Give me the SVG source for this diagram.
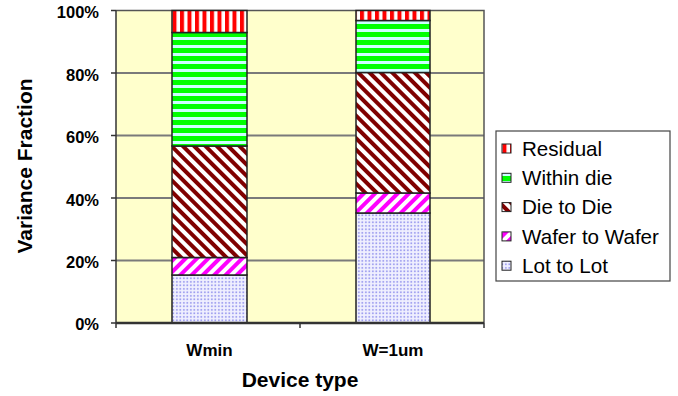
<svg xmlns="http://www.w3.org/2000/svg" width="678" height="396" viewBox="0 0 678 396">
  <style>
    .tick { font-family: "Liberation Sans", Arial, sans-serif; font-size: 16.5px; font-weight: bold; fill: #000; text-anchor: end; }
    .cat { font-family: "Liberation Sans", Arial, sans-serif; font-size: 17px; font-weight: bold; fill: #000; text-anchor: middle; }
    .title { font-family: "Liberation Sans", Arial, sans-serif; font-size: 21px; font-weight: bold; fill: #000; text-anchor: middle; }
    .leg { font-family: "Liberation Sans", Arial, sans-serif; font-size: 20.6px; fill: #000; }
    .grid { stroke: #7a7a7a; stroke-width: 2; fill: none; }
    .seg { stroke: #222; stroke-width: 1.5; }
    .sw { stroke: #222; stroke-width: 1; }
  </style>
  <defs>
    <!-- Residual: wide vertical red stripes -->
    <pattern id="pResidual" patternUnits="userSpaceOnUse" width="7.5" height="8">
      <rect width="7.5" height="8" fill="#ffffff"/>
      <rect x="0" width="4" height="8" fill="#ff0000"/>
    </pattern>
    <!-- Within die: wide horizontal green stripes on pale cyan -->
    <pattern id="pWithin" patternUnits="userSpaceOnUse" width="8" height="8">
      <rect width="8" height="8" fill="#ccffff"/>
      <rect y="0" width="8" height="5" fill="#00ff00"/>
    </pattern>
    <!-- Die to Die: wide downward diagonal, dark red -->
    <pattern id="pDie" patternUnits="userSpaceOnUse" width="8" height="8" patternTransform="rotate(-45)">
      <rect width="8" height="8" fill="#ffffff"/>
      <rect x="0" width="4" height="8" fill="#800000"/>
    </pattern>
    <!-- Wafer to Wafer: wide upward diagonal, magenta -->
    <pattern id="pWafer" patternUnits="userSpaceOnUse" width="8" height="8" patternTransform="rotate(45)">
      <rect width="8" height="8" fill="#ffffff"/>
      <rect x="0" width="4" height="8" fill="#ff00ff"/>
    </pattern>
    <!-- Lot to Lot: small lavender dots -->
    <pattern id="pLot" patternUnits="userSpaceOnUse" width="3.5" height="3.5">
      <rect width="3.5" height="3.5" fill="#f0f0ff"/>
      <rect x="1" y="1" width="1.7" height="1.7" fill="#9999ee"/>
    </pattern>
  </defs>

  <rect width="678" height="396" fill="#ffffff"/>

  <!-- plot area -->
  <g id="plot-area">
    <rect x="116" y="10.5" width="368" height="312.5" fill="#ffffcc"/>
    <line class="grid" x1="116" y1="73" x2="484" y2="73"/>
    <line class="grid" x1="116" y1="135.5" x2="484" y2="135.5"/>
    <line class="grid" x1="116" y1="198" x2="484" y2="198"/>
    <line class="grid" x1="116" y1="260.5" x2="484" y2="260.5"/>
    <polyline points="116,10.5 484,10.5 484,323" fill="none" stroke="#555" stroke-width="1.5"/>
  </g>

  <!-- bar: Wmin -->
  <g id="bar-wmin">
    <rect class="seg" x="172" y="275" width="75" height="48" fill="url(#pLot)"/>
    <rect class="seg" x="172" y="257.5" width="75" height="17.5" fill="url(#pWafer)"/>
    <rect class="seg" x="172" y="146" width="75" height="111.5" fill="url(#pDie)"/>
    <rect class="seg" x="172" y="32.5" width="75" height="113.5" fill="url(#pWithin)"/>
    <rect class="seg" x="172" y="10.5" width="75" height="22" fill="url(#pResidual)"/>
  </g>

  <!-- bar: W=1um -->
  <g id="bar-w1um">
    <rect class="seg" x="356" y="213" width="74" height="110" fill="url(#pLot)"/>
    <rect class="seg" x="356" y="193" width="74" height="20" fill="url(#pWafer)"/>
    <rect class="seg" x="356" y="72.5" width="74" height="120.5" fill="url(#pDie)"/>
    <rect class="seg" x="356" y="20.5" width="74" height="52" fill="url(#pWithin)"/>
    <rect class="seg" x="356" y="10.5" width="74" height="10" fill="url(#pResidual)"/>
  </g>

  <!-- axes -->
  <g id="axes" stroke="#333" fill="none">
    <line x1="116" y1="10.5" x2="116" y2="323" stroke-width="1.5"/>
    <line x1="116" y1="323" x2="484" y2="323" stroke-width="2.5"/>
    <g stroke-width="1.5">
      <line x1="111" y1="10.5" x2="116" y2="10.5"/>
      <line x1="111" y1="73" x2="116" y2="73"/>
      <line x1="111" y1="135.5" x2="116" y2="135.5"/>
      <line x1="111" y1="198" x2="116" y2="198"/>
      <line x1="111" y1="260.5" x2="116" y2="260.5"/>
      <line x1="111" y1="323" x2="116" y2="323"/>
      <line x1="116" y1="323" x2="116" y2="328"/>
      <line x1="300" y1="323" x2="300" y2="328"/>
      <line x1="484" y1="323" x2="484" y2="328"/>
    </g>
  </g>

  <!-- axis labels -->
  <g id="y-ticks">
    <text class="tick" x="99" y="18">100%</text>
    <text class="tick" x="99" y="80.5">80%</text>
    <text class="tick" x="99" y="143">60%</text>
    <text class="tick" x="99" y="205.5">40%</text>
    <text class="tick" x="99" y="268">20%</text>
    <text class="tick" x="99" y="330">0%</text>
  </g>
  <g id="x-ticks">
    <text class="cat" x="209.5" y="356">Wmin</text>
    <text class="cat" x="393" y="356">W=1um</text>
  </g>
  <text id="x-title" class="title" x="300" y="387">Device type</text>
  <text id="y-title" class="title" transform="translate(31.5,166) rotate(-90)">Variance Fraction</text>

  <!-- legend -->
  <g id="legend">
    <rect x="496" y="131" width="174" height="150" fill="#ffffff" stroke="#444" stroke-width="1.2"/>
    <rect class="sw" x="502" y="144" width="9" height="9" fill="url(#pResidual)"/>
    <text class="leg" x="522" y="155.7">Residual</text>
    <rect class="sw" x="502" y="173.3" width="9" height="9" fill="url(#pWithin)"/>
    <text class="leg" x="522" y="185">Within die</text>
    <rect class="sw" x="502" y="202.6" width="9" height="9" fill="url(#pDie)"/>
    <text class="leg" x="522" y="214.3">Die to Die</text>
    <rect class="sw" x="502" y="231.9" width="9" height="9" fill="url(#pWafer)"/>
    <text class="leg" x="522" y="243.5">Wafer to Wafer</text>
    <rect class="sw" x="502" y="261.2" width="9" height="9" fill="url(#pLot)"/>
    <text class="leg" x="522" y="272.8">Lot to Lot</text>
  </g>
</svg>
